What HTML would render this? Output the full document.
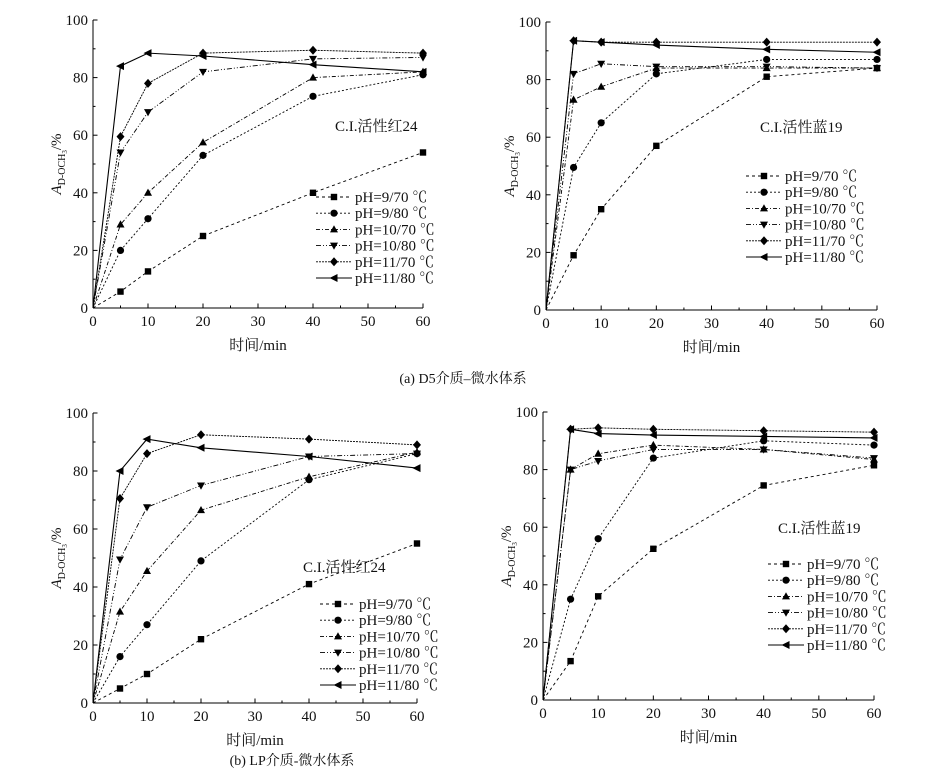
<!DOCTYPE html><html><head><meta charset="utf-8"><style>body{margin:0;background:#fff}svg{display:block}text{font-family:"Liberation Serif","Noto Serif CJK SC",serif;fill:#111}</style></head><body>
<svg id="s" width="927" height="774" xmlns="http://www.w3.org/2000/svg"></svg>
<script>
const S=document.getElementById('s');let h='';
const styles=[['3,3','sq'],['2,2','ci'],['4,2,1,2','tu'],['5,2,1,2,1,2','td'],['2,1','di'],['','le']];
const labs=['pH=9/70 ℃','pH=9/80 ℃','pH=10/70 ℃','pH=10/80 ℃','pH=11/70 ℃','pH=11/80 ℃'];
function mk(t,x,y){
if(t=='sq')return `<rect x="${x-3.2}" y="${y-3.2}" width="6.4" height="6.4"/>`;
if(t=='ci')return `<circle cx="${x}" cy="${y}" r="3.6"/>`;
if(t=='tu')return `<polygon points="${x},${y-4.2} ${x+4},${y+3} ${x-4},${y+3}"/>`;
if(t=='td')return `<polygon points="${x},${y+4.2} ${x+4},${y-3} ${x-4},${y-3}"/>`;
if(t=='di')return `<polygon points="${x},${y-4.5} ${x+4},${y} ${x},${y+4.5} ${x-4},${y}"/>`;
return `<polygon points="${x-4.5},${y} ${x+3.5},${y-4} ${x+3.5},${y+4}"/>`;}
function panel(p){const {x0,x1,y0,y1,data,title,tx,ty,lx,ly}=p;
const X=v=>x0+(x1-x0)*v/60,Y=v=>y0-(y0-y1)*v/100;
h+=`<g stroke="#000" stroke-width="1" fill="none"><line x1="${x0}" y1="${y0}" x2="${x1}" y2="${y0}"/><line x1="${x0}" y1="${y0}" x2="${x0}" y2="${y1}"/>`;
for(let i=0;i<=12;i++){const x=X(i*5);h+=`<line x1="${x}" y1="${y0}" x2="${x}" y2="${y0-(i%2?2.5:4.5)}"/>`;}
for(let i=0;i<=10;i++){const y=Y(i*10);h+=`<line x1="${x0}" y1="${y}" x2="${x0+(i%2?2.5:4.5)}" y2="${y}"/>`;}
h+='</g>';
for(let i=0;i<=6;i++)h+=`<text x="${X(i*10)}" y="${y0+18}" font-size="15" text-anchor="middle">${i*10}</text>`;
for(let i=0;i<=5;i++)h+=`<text x="${x0-5}" y="${Y(i*20)+5}" font-size="15" text-anchor="end">${i*20}</text>`;
h+=`<text x="${(x0+x1)/2}" y="${y0+42}" font-size="15" text-anchor="middle">时间/min</text>`;
const cy=(y0+y1)/2;h+=`<text transform="translate(${x0-32},${cy}) rotate(-90)" font-size="15" text-anchor="middle"><tspan font-style="italic">A</tspan><tspan font-size="10" dy="4">D-OCH</tspan><tspan font-size="7" dy="2">3</tspan><tspan dy="-6">/%</tspan></text>`;
h+=`<text x="${tx}" y="${ty}" font-size="15">${title}</text>`;
const xs=[0,5,10,20,40,60];
data.forEach((d,k)=>{const pts=[0,...d].map((v,i)=>X(xs[i])+','+Y(v)).join(' ');
h+=`<polyline points="${pts}" fill="none" stroke="#000" stroke-width="${k==5?1.1:0.9}" ${styles[k][0]?`stroke-dasharray="${styles[k][0]}"`:''}/>`;
h+='<g fill="#000">';d.forEach((v,i)=>h+=mk(styles[k][1],X(xs[i+1]),Y(v)));h+='</g>';
const yy=ly+k*16.2;h+=`<line x1="${lx}" y1="${yy}" x2="${lx+36}" y2="${yy}" stroke="#000" stroke-width="0.9" ${styles[k][0]?`stroke-dasharray="${styles[k][0]}"`:''}/><g fill="#000">${mk(styles[k][1],lx+18,yy)}</g><text x="${lx+39}" y="${yy+5}" font-size="15">${labs[k]}</text>`;});}
panel({x0:93,x1:423,y0:308,y1:20,title:'C.I.活性红24',tx:335,ty:131,lx:316,ly:197,data:[[5.7,12.7,25,40,54],[20,31,53,73.5,81],[29,40,57.5,80,82],[54,68,82,86.5,87],[59.5,78,88.5,89.5,88.5],[84,88.5,87.5,84.5,82]]});
panel({x0:546,x1:877,y0:310,y1:22,title:'C.I.活性蓝19',tx:760,ty:132,lx:746,ly:176,data:[[19,35,57,81,84],[49.5,65,82,87,87],[73,77.5,84,84,84],[82,85.5,84.5,84.5,84],[93.5,93,93,93,93],[93.5,93,92,90.5,89.5]]});
panel({x0:93,x1:417,y0:703,y1:413,title:'C.I.活性红24',tx:303,ty:572,lx:320,ly:604,data:[[5,10,22,41,55],[16,27,49,77,86],[31.5,45.5,66.5,78,86.5],[49.5,67.5,75,85,86],[70.5,86,92.5,91,89],[80,91,88,85,81]]});
panel({x0:543,x1:874,y0:700,y1:412,title:'C.I.活性蓝19',tx:778,ty:533,lx:768,ly:564,data:[[13.5,36,52.5,74.5,81.5],[35,56,84,90,88.5],[80,85.5,88.5,87,83.5],[80,83,87,87,84],[94,94.5,94,93.5,93],[94,92.5,92,91.5,91]]});
h+=`<text x="463" y="383" font-size="14" text-anchor="middle">(a) D5介质–微水体系</text>`;
h+=`<text x="292" y="765" font-size="14" text-anchor="middle">(b) LP介质-微水体系</text>`;
S.innerHTML=h;
</script></body></html>
